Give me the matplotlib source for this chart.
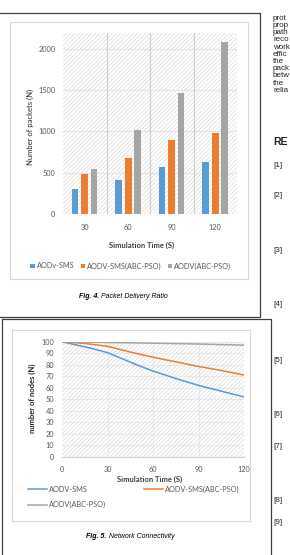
import matplotlib.pyplot as plt
import numpy as np
from matplotlib.patches import Rectangle
from matplotlib.lines import Line2D

# ---- data ----
times = ['30', '60', '90', '120']
pdr_sms = [300, 410, 570, 625]
pdr_sms_abc = [480, 680, 900, 980]
pdr_abc = [550, 1020, 1470, 2080]

conn_t = [0, 10, 20, 30, 40, 50, 60, 75, 90, 105, 120]
conn_sms = [100, 97, 94, 90.5, 85, 79.5, 74.5, 68, 62, 57, 52]
conn_t2 = [0, 15, 30, 45, 60, 75, 90, 105, 120]
conn_sms_abc = [100, 98.5, 96, 91, 86.5, 82.5, 78.5, 75, 71]
conn_t3 = [0, 30, 60, 90, 120]
conn_abc = [100, 99.3, 98.7, 98, 97]

side_words = ['prot', 'prop', 'path', 'reco', 'work', 'effic', 'the', 'pack', 'betw', 'the', 'relia']
refs = ['[1]', '[2]', '[3]', '[4]', '[5]', '[6]', '[7]', '[8]', '[9]']
ref_y = [165, 196, 250, 305, 360, 414, 447, 501, 523]

blue, orange, grey = '#5B9BD5', '#ED7D31', '#A5A5A5'
tick_c = '#595959'
W, H = 290, 555

plt.rcParams['font.family'] = ['Lato', 'DejaVu Sans']
plt.rcParams['hatch.linewidth'] = 0.35

fig = plt.figure(figsize=(W / 100, H / 100), dpi=100)


def box(x0, y0, x1, y1):
    return [x0 / W, 1 - y1 / H, (x1 - x0) / W, (y1 - y0) / H]


def fline(xs, ys, color='#404040', lw=0.9):
    fig.add_artist(Line2D([x / W for x in xs], [1 - y / H for y in ys],
                          transform=fig.transFigure, color=color, lw=lw))


def hatch_bg(ax):
    ax.add_patch(Rectangle((0, 0), 1, 1, transform=ax.transAxes, facecolor='white',
                           hatch='////////', edgecolor='#cccccc', lw=0, zorder=0))


# frames around the figures
fline([0, 260, 260, 0], [13, 13, 317, 317])
fline([2, 271, 271], [319, 319, 560])
fline([2, 2], [319, 560])
# light chart-area borders
fig.add_artist(Rectangle((10 / W, 1 - 279 / H), 238 / W, 257 / H, transform=fig.transFigure,
                         fill=False, edgecolor='#d9d9d9', lw=0.8))
fig.add_artist(Rectangle((12 / W, 1 - 521 / H), 238 / W, 191 / H, transform=fig.transFigure,
                         fill=False, edgecolor='#d9d9d9', lw=0.8))

# ---- Fig. 4 bar chart ----
ax = fig.add_axes(box(63, 33, 237, 214))
hatch_bg(ax)
x = np.arange(len(times))
ax.bar(x - 0.22, pdr_sms, 0.15, color=blue, label='AODv-SMS', zorder=3)
ax.bar(x, pdr_sms_abc, 0.15, color=orange, label='AODV-SMS(ABC-PSO)', zorder=3)
ax.bar(x + 0.21, pdr_abc, 0.15, color=grey, label='AODV(ABC-PSO)', zorder=3)
ax.set_xlim(-0.5, 3.5)
ax.set_ylim(0, 2190)
ax.set_yticks([0, 500, 1000, 1500, 2000])
ax.set_xticks(x)
ax.set_xticklabels(times)
for v in [500, 1000, 1500, 2000]:
    ax.axhline(v, color='#e3e3e3', lw=0.8, zorder=1)
for v in [0.5, 1.5, 2.5]:
    ax.axvline(v, color='#d0d0d0', lw=0.8, zorder=1)
for s in ax.spines.values():
    s.set_visible(False)
ax.tick_params(length=0, labelsize=5.3, labelcolor=tick_c)
ax.tick_params(axis='y', pad=5.5)
ax.tick_params(axis='x', pad=7)
ax.set_xlabel('Simulation Time (S)', fontsize=5.5, fontweight='bold', color='#404040')
ax.xaxis.set_label_coords(142 / W, 1 - 245 / H, transform=fig.transFigure)
ax.xaxis.label.set_va('center')
ax.set_ylabel('Number of packets (N)', fontsize=5.5, color='#262626')
ax.yaxis.set_label_coords(30 / W, 1 - 127 / H, transform=fig.transFigure)
ax.yaxis.label.set_va('center')
ax.legend(loc='center', bbox_to_anchor=(131 / W, 1 - 266 / H), bbox_transform=fig.transFigure,
          ncol=3, frameon=False, fontsize=5.3, handlelength=0.6, handleheight=0.6,
          handletextpad=0.3, columnspacing=0.8, labelcolor=tick_c)

fig.text(79 / W, 1 - 297 / H, 'Fig. 4.', fontsize=5, family='Liberation Sans',
         style='italic', fontweight='bold', va='center')
fig.text(101 / W, 1 - 297 / H, 'Packet Delivery Ratio', fontsize=5, family='Liberation Sans',
         style='italic', va='center')

# ---- Fig. 5 line chart ----
ax2 = fig.add_axes(box(62, 341.7, 244, 456.7))
hatch_bg(ax2)
l1, = ax2.plot(conn_t, conn_sms, color=blue, lw=1.1, zorder=3, label='AODV-SMS')
l2, = ax2.plot(conn_t2, conn_sms_abc, color=orange, lw=1.1, zorder=3, label='AODV-SMS(ABC-PSO)')
l3, = ax2.plot(conn_t3, conn_abc, color=grey, lw=1.1, zorder=3, label='AODV(ABC-PSO)')
ax2.set_xlim(0, 120)
ax2.set_ylim(0, 100)
ax2.set_xticks([0, 30, 60, 90, 120])
ax2.set_yticks(range(0, 101, 10))
for v in range(10, 101, 10):
    ax2.axhline(v, color='#e6e6e6', lw=0.6, zorder=1)
for v in [30, 60, 90]:
    ax2.axvline(v, color='#e6e6e6', lw=0.6, zorder=1)
for k in ['top', 'right', 'left']:
    ax2.spines[k].set_visible(False)
ax2.spines['bottom'].set_color('#d0d0d0')
ax2.spines['bottom'].set_linewidth(0.8)
ax2.tick_params(length=0, labelsize=5.3, labelcolor=tick_c)
ax2.tick_params(axis='y', pad=5.5)
ax2.tick_params(axis='x', pad=6.5)
ax2.set_xlabel('Simulation Time (S)', fontsize=5.5, fontweight='bold', color='#404040')
ax2.xaxis.set_label_coords(150 / W, 1 - 479 / H, transform=fig.transFigure)
ax2.xaxis.label.set_va('center')
ax2.set_ylabel('number of nodes (N)', fontsize=5.5, fontweight='bold', color='#262626')
ax2.yaxis.set_label_coords(32 / W, 1 - 398 / H, transform=fig.transFigure)
ax2.yaxis.label.set_va('center')
ax2.legend(handles=[l1, l3, l2], loc='upper left', bbox_to_anchor=(28 / W, 1 - 486 / H),
           bbox_transform=fig.transFigure, ncol=2, frameon=False, fontsize=5.3,
           handlelength=2.6, handletextpad=0.2, columnspacing=5.2, labelspacing=1.1,
           labelcolor=tick_c, borderaxespad=0, borderpad=0)

fig.text(86 / W, 1 - 537 / H, 'Fig. 5.', fontsize=5, family='Liberation Sans',
         style='italic', fontweight='bold', va='center')
fig.text(109 / W, 1 - 537 / H, 'Network Connectivity', fontsize=5, family='Liberation Sans',
         style='italic', va='center')

# ---- side column text ----
for i, w in enumerate(side_words):
    fig.text(273 / W, 1 - (18.3 + 7.2 * i) / H, w, fontsize=5.8, family='Liberation Sans',
             va='center', color='#222222')
fig.text(273 / W, 1 - 142 / H, 'RE', fontsize=7.5, family='Liberation Sans',
         fontweight='bold', va='center', color='#222222')
for r, y in zip(refs, ref_y):
    fig.text(273 / W, 1 - y / H, r, fontsize=5.8, family='Liberation Sans',
             va='center', color='#222222')

fig.savefig('out.png', dpi=100)
